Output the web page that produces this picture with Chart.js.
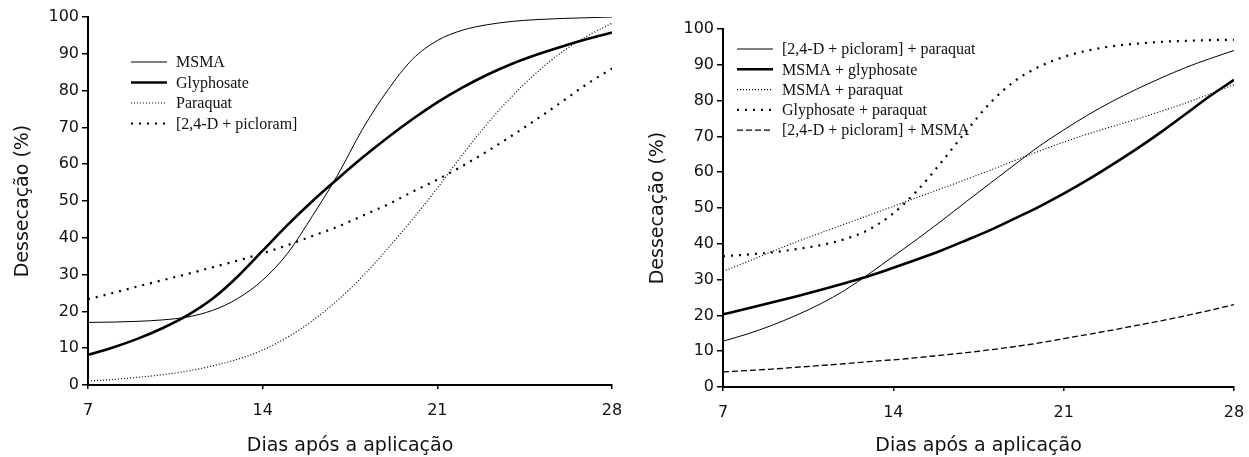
<!DOCTYPE html>
<html>
<head>
<meta charset="utf-8">
<script src="https://cdn.jsdelivr.net/npm/chart.js@4.4.1/dist/chart.umd.min.js"></script>
<style>
  html, body { margin: 0; padding: 0; background: #fff; }
  body { width: 1249px; height: 457px; position: relative; overflow: hidden; }
  canvas { position: absolute; top: 0; }
  #c1 { left: 0; }
  #c2 { left: 624px; }
</style>
</head>
<body>
<canvas id="c1" width="624" height="457"></canvas>
<canvas id="c2" width="625" height="457"></canvas>
<script>
// ---- Data ----
const days = [7, 8, 9, 10, 11, 12, 13, 14, 15, 16, 17, 18, 19, 20, 21, 22, 23, 24, 25, 26, 27, 28];
const xTickValues = [7, 14, 21, 28];
const yTickValues = [0, 10, 20, 30, 40, 50, 60, 70, 80, 90, 100];

// Left panel
const leftLabels = ['MSMA', 'Glyphosate', 'Paraquat', '[2,4-D + picloram]'];
const msma       = [17.0, 17.1, 17.3, 17.7, 18.5, 20.3, 23.5, 28.5, 35.8, 46.0, 57.0, 69.5, 80.0, 88.5, 93.6, 96.4, 97.9, 98.8, 99.3, 99.6, 99.8, 100.0];
const glyphosate = [8.2, 10.2, 12.6, 15.5, 19.0, 23.5, 29.5, 36.5, 43.5, 50.0, 56.0, 61.8, 67.2, 72.2, 76.8, 80.8, 84.3, 87.3, 89.8, 92.0, 94.0, 95.8];
const paraquat   = [1.1, 1.5, 2.1, 2.8, 3.8, 5.2, 7.0, 9.5, 13.0, 17.5, 23.0, 29.5, 37.0, 45.0, 53.5, 62.5, 71.0, 78.5, 85.0, 90.5, 94.8, 98.3];
const d24Picloram = [23.3, 25.0, 26.8, 28.5, 30.2, 32.0, 33.8, 35.8, 38.0, 40.5, 43.0, 46.0, 49.0, 52.5, 55.8, 59.5, 63.5, 67.8, 72.3, 77.0, 81.8, 86.0];

// Right panel
const rightLabels = ['[2,4-D + picloram] + paraquat', 'MSMA + glyphosate', 'MSMA + paraquat', 'Glyphosate + paraquat', '[2,4-D + picloram] + MSMA'];
const d24pParaquat       = [12.8, 14.8, 17.2, 20.0, 23.2, 27.0, 31.6, 36.5, 41.4, 46.5, 51.8, 57.0, 62.2, 67.3, 71.8, 76.0, 79.8, 83.2, 86.3, 89.2, 91.7, 94.0];
const msmaGlyphosate     = [20.3, 21.9, 23.6, 25.3, 27.1, 29.0, 31.0, 33.3, 35.7, 38.2, 41.0, 43.9, 47.1, 50.4, 54.0, 57.9, 62.1, 66.5, 71.2, 76.2, 81.2, 85.8];
const msmaParaquat       = [32.3, 35.0, 37.8, 40.5, 43.0, 45.5, 48.0, 50.5, 53.0, 55.5, 58.0, 60.6, 63.3, 65.9, 68.4, 70.7, 72.8, 74.8, 77.0, 79.3, 81.8, 84.5];
const glyphosateParaquat = [36.5, 37.0, 37.6, 38.5, 39.6, 41.3, 44.0, 48.5, 55.0, 63.0, 71.5, 79.5, 85.5, 89.5, 92.2, 94.0, 95.2, 95.9, 96.4, 96.7, 96.9, 97.0];
const d24pMsma           = [4.2, 4.6, 5.0, 5.5, 6.0, 6.5, 7.1, 7.6, 8.2, 8.9, 9.6, 10.4, 11.3, 12.3, 13.5, 14.7, 15.9, 17.2, 18.5, 19.9, 21.4, 23.0];

// ---- Styles ----
const STYLE = {
  thin:   { borderWidth: 1,   borderDash: [] },
  thick:  { borderWidth: 2.6, borderDash: [] },
  fine:   { borderWidth: 1.2, borderDash: [1, 2] },
  coarse: { borderWidth: 2.2, borderDash: [2, 6] },
  dashed: { borderWidth: 1.3, borderDash: [6, 3] }
};

function series(label, values, style) {
  return Object.assign({
    label: label,
    data: days.map((d, i) => ({ x: d, y: values[i] })),
    borderColor: '#000',
    backgroundColor: '#000',
    pointRadius: 0,
    pointHoverRadius: 0,
    fill: false,
    cubicInterpolationMode: 'monotone',
    borderCapStyle: 'butt'
  }, style);
}

const inlineLegend = {
  id: 'inlineLegend',
  afterDraw(chart, args, opts) {
    const ctx = chart.ctx;
    ctx.save();
    chart.data.datasets.forEach((ds, i) => {
      const y = opts.y + i * opts.rowH;
      ctx.beginPath();
      ctx.strokeStyle = '#000';
      ctx.lineWidth = ds.borderWidth;
      ctx.setLineDash(ds.borderDash || []);
      ctx.lineCap = 'butt';
      ctx.moveTo(opts.x, y);
      ctx.lineTo(opts.x + opts.lineLen, y);
      ctx.stroke();
      ctx.setLineDash([]);
      ctx.fillStyle = '#111';
      ctx.font = opts.font;
      ctx.textBaseline = 'middle';
      ctx.textAlign = 'left';
      ctx.fillText(ds.label, opts.x + opts.lineLen + opts.gap, y + 1);
    });
    ctx.restore();
  }
};

const TICK_FONT = { family: '"DejaVu Sans", sans-serif', size: 16 };
const TITLE_FONT = { family: '"DejaVu Sans", sans-serif', size: 19 };

function makeChart(id, datasets, geo) {
  return new Chart(document.getElementById(id), {
    type: 'line',
    data: { datasets: datasets },
    plugins: [inlineLegend],
    options: {
      responsive: false,
      animation: false,
      devicePixelRatio: 1,
      events: [],
      layout: { padding: { top: geo.top, right: geo.right, left: 0, bottom: 0 } },
      plugins: {
        legend: { display: false },
        tooltip: { enabled: false },
        inlineLegend: geo.legend
      },
      scales: {
        x: {
          type: 'linear',
          min: 7, max: 28,
          afterBuildTicks: (s) => { s.ticks = xTickValues.map(v => ({ value: v })); },
          afterFit: (s) => { s.height = geo.xAxisH; s.paddingLeft = 0; s.paddingRight = 0; },
          border: { display: true, color: '#000', width: 2 },
          grid: { display: true, drawOnChartArea: false, drawTicks: true, tickLength: 4, color: '#000', lineWidth: 1.5 },
          ticks: { color: '#111', font: TICK_FONT, padding: 12, maxRotation: 0, autoSkip: false },
          title: { display: true, text: 'Dias após a aplicação', color: '#111', font: TITLE_FONT, padding: { top: 0, bottom: 0 } }
        },
        y: {
          type: 'linear',
          min: 0, max: 100,
          afterBuildTicks: (s) => { s.ticks = yTickValues.map(v => ({ value: v })); },
          afterFit: (s) => { s.width = geo.yAxisW; },
          border: { display: true, color: '#000', width: 2 },
          grid: { display: true, drawOnChartArea: false, drawTicks: true, tickLength: 6, color: '#000', lineWidth: 1.5 },
          ticks: { color: '#111', font: TICK_FONT, padding: 3, autoSkip: false },
          title: { display: true, text: 'Dessecação (%)', color: '#111', font: TITLE_FONT, padding: { top: geo.yTitlePad, bottom: 0 } }
        }
      }
    }
  });
}

const SERIF = '16px "Liberation Serif", "Times New Roman", serif';

makeChart('c1', [
  series(leftLabels[0], msma, STYLE.thin),
  series(leftLabels[1], glyphosate, STYLE.thick),
  series(leftLabels[2], paraquat, STYLE.fine),
  series(leftLabels[3], d24Picloram, STYLE.coarse)
], {
  top: 17, right: 12, xAxisH: 72, yAxisW: 88, yTitlePad: 12,
  legend: { x: 131, y: 62, rowH: 20.5, lineLen: 36, gap: 9, font: SERIF }
});

makeChart('c2', [
  series(rightLabels[0], d24pParaquat, STYLE.thin),
  series(rightLabels[1], msmaGlyphosate, STYLE.thick),
  series(rightLabels[2], msmaParaquat, STYLE.fine),
  series(rightLabels[3], glyphosateParaquat, STYLE.coarse),
  series(rightLabels[4], d24pMsma, STYLE.dashed)
], {
  top: 29, right: 15, xAxisH: 70, yAxisW: 99, yTitlePad: 23,
  legend: { x: 113, y: 49, rowH: 20.3, lineLen: 36, gap: 9, font: SERIF }
});
</script>
</body>
</html>
